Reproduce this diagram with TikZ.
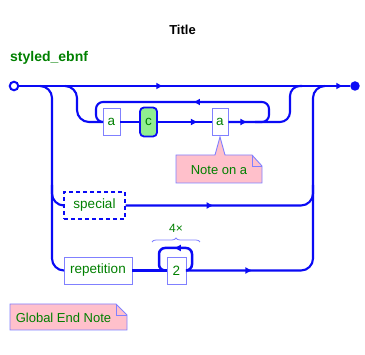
\documentclass[tikz,border=0pt]{standalone}
\usepackage{fontspec}
\setmainfont{Liberation Sans}
\usetikzlibrary{arrows.meta,decorations.pathreplacing,decorations.markings}
\definecolor{rrblue}{RGB}{10,10,245}
\definecolor{boxborder}{RGB}{128,128,255}
\definecolor{txtgreen}{RGB}{0,128,0}
\definecolor{notepink}{RGB}{255,192,203}
\definecolor{cgreen}{RGB}{144,238,144}
\tikzset{
  rr/.style={draw=rrblue, line width=2.1pt},
  arrowat/.style={postaction={decorate, decoration={markings,
      mark=at position #1 with {\arrow{Latex[length=7pt,width=7pt]}}}}},
  termbox/.style={draw=boxborder, line width=0.9pt, fill=white, inner sep=0pt,
    text=txtgreen, font=\fontsize{13.5}{16}\selectfont, minimum height=27pt},
  ntbox/.style={termbox, draw=rrblue, line width=1.8pt, fill=cgreen, rounded corners=4pt},
  specbox/.style={termbox, draw=rrblue, dash pattern=on 4pt off 3pt, line width=1.2pt},
  notestyle/.style={draw=boxborder, line width=0.9pt, fill=notepink},
  notetext/.style={text=txtgreen, font=\fontsize{13}{15}\selectfont, inner sep=0pt},
}
\begin{document}
\begin{tikzpicture}[x=1pt,y=-1pt]
\useasboundingbox (0,0) rectangle (365,355);

% titles
\node[font=\bfseries\fontsize{13}{15}\selectfont] (title) at (182.5,30) {Title};
\node[font=\bfseries\fontsize{14}{16}\selectfont, text=txtgreen, anchor=west, inner sep=0pt] (name) at (10,58) {styled\_ebnf};

% terminals
\node[circle, draw=rrblue, line width=2pt, fill=white, minimum size=8.5pt, inner sep=0pt] (start) at (14,86) {};
\node[circle, fill=rrblue, minimum size=9.5pt, inner sep=0pt] (end) at (355,86) {};

% boxes
\node[termbox, minimum width=17pt] (a1) at (111.5,122) {a};
\node[ntbox, minimum width=17pt, minimum height=29pt] (c) at (148.5,122) {c};
\node[termbox, minimum width=16pt] (a2) at (220,122) {a};
\node[specbox, minimum width=61pt] (special) at (94.5,205.5) {special};
\node[termbox, minimum width=68pt] (rep) at (98,270.5) {repetition};
\node[termbox, minimum width=19pt] (two) at (176.5,270.5) {2};

% junction coordinates
\coordinate (jL) at (40,86);
\coordinate (jI) at (65,86);
\coordinate (jO) at (302,86);
\coordinate (jR) at (325,86);

% main line
\draw[rr, arrowat=144pt, arrowat=324pt] (start.east) -- (end.west);

% left branches
\draw[rr, rounded corners=12pt] (jL) -| (52,270.5) -- (rep.west);
\draw[rr, rounded corners=12pt] (52,185) |- (special.west);

% inner branch
\draw[rr, rounded corners=12pt] (jI) -| (77,122) -- (a1.west);
\draw[rr] (a1.east) -- (c.west);
\draw[rr, arrowat=40pt] (c.east) -- (a2.west);
\draw[rr, rounded corners=10pt, arrowat=19pt] (a2.east) -| (290,86) -- (jO);

% loop back
\draw[rr, rounded corners=7pt, arrowat=104pt] (255,122) -| (269,102) -| (96,122) -- (a1.west);

% special row
\draw[rr, rounded corners=12pt, arrowat=88pt] (special.east) -| (313,185);

% repetition row
\draw[rr] (rep.east) -- (two.west);
\draw[rr, rounded corners=12pt, arrowat=66pt] (two.east) -| (313,86) -- (jR);
\draw[rr, line width=2.5pt, rounded corners=6pt, arrowat=42pt] (two.east) -| (192,248) -| (159,270.5) -- (two.west);

% brace and count
\draw[draw=boxborder, line width=0.8pt, decorate, decoration={brace, amplitude=4pt}] (152,242) -- (200,242);
\node[text=txtgreen, font=\fontsize{12}{14}\selectfont, inner sep=0pt] (count) at (176,228) {4×};

% note on a
\draw[notestyle] (176,155) -- (215,155) -- ([yshift=-1pt]a2.south) -- (225,155) -- (252,155) -- (262,166) -- (262,183) -- (176,183) -- cycle;
\draw[draw=boxborder, line width=0.9pt] (252,155) -- (252,166) -- (262,166);
\node[notetext] (notea) at (219,170) {Note on a};

% global end note
\draw[notestyle] (10,304) -- (116,304) -- (127,315) -- (127,330) -- (10,330) -- cycle;
\draw[draw=boxborder, line width=0.9pt] (116,304) -- (116,315) -- (127,315);
\node[notetext] (gnote) at (63.5,317.5) {Global End Note};
\end{tikzpicture}
\end{document}
